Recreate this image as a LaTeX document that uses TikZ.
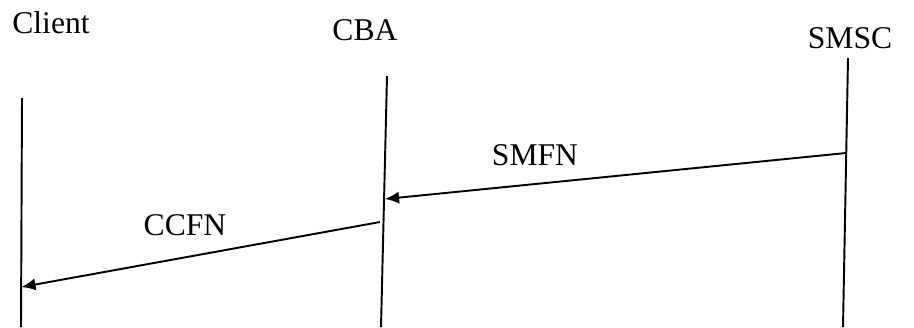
\documentclass[tikz,border=0pt]{standalone}
\usepackage{fontspec}
\setmainfont{Liberation Serif}
\usetikzlibrary{arrows.meta,positioning}

\begin{document}
\begin{tikzpicture}[
  lbl/.style={font=\fontsize{18}{21}\selectfont,inner sep=1pt},
  life/.style={line width=1.1pt},
  msg/.style={line width=1.1pt,-{Latex[length=8pt,width=7pt]}}
]
\useasboundingbox (0,0) rectangle (18.28,-6.54);
% Entities
\node[lbl] (client) at (1.02,-0.46) {Client};
\node[lbl] (cba) at (7.3,-0.6) {CBA};
\node[lbl] (smsc) at (17.0,-0.76) {SMSC};
% Lifelines
\coordinate (clientT) at (0.44,-1.96);
\coordinate (clientB) at (0.42,-6.54);
\coordinate (cbaT) at (7.74,-1.52);
\coordinate (cbaB) at (7.62,-6.54);
\coordinate (smscT) at (16.96,-1.16);
\coordinate (smscB) at (16.86,-6.54);
\draw[life] (clientT) -- (clientB);
\draw[life] (cbaT) -- (cbaB);
\draw[life] (smscT) -- (smscB);
% Messages
\coordinate (smfnS) at (16.92,-3.06);
\coordinate (smfnE) at (7.70,-3.98);
\coordinate (ccfnS) at (7.60,-4.44);
\coordinate (ccfnE) at (0.43,-5.74);
\draw[msg] (smfnS) -- (smfnE);
\node[lbl] (smfn) at (10.7,-3.1) {SMFN};
\draw[msg] (ccfnS) -- (ccfnE);
\node[lbl] (ccfn) at (3.7,-4.5) {CCFN};
\end{tikzpicture}
\end{document}
